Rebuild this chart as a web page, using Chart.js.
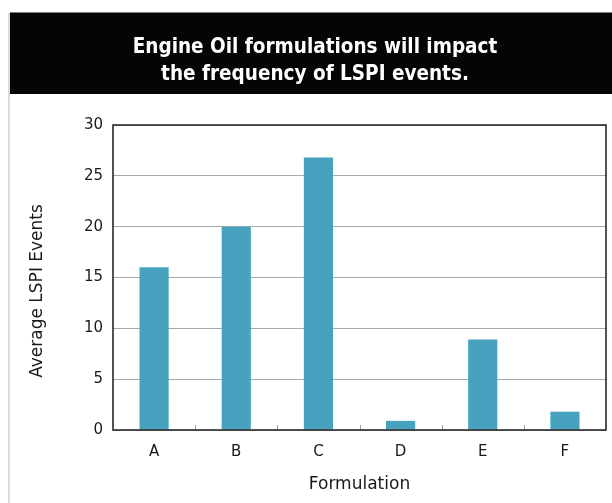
<!DOCTYPE html>
<html>
<head>
<meta charset="utf-8">
<script src="https://cdn.jsdelivr.net/npm/chart.js@4.4.1/dist/chart.umd.min.js"></script>
<style>
  html, body { margin: 0; padding: 0; background: #ffffff; }
  #wrap { width: 612px; height: 503px; position: relative; }
</style>
</head>
<body>
<div id="wrap"><canvas id="chart" width="612" height="503"></canvas></div>
<script>
// Formulations and their average LSPI event counts
const categories = ['A', 'B', 'C', 'D', 'E', 'F'];
const avgEvents = [16, 20, 26.8, 0.9, 8.9, 1.8];
const yTicks = [0, 5, 10, 15, 20, 25, 30];
const titleLines = ['Engine Oil formulations will impact', 'the frequency of LSPI events.'];
const xAxisTitle = 'Formulation';
const yAxisTitle = 'Average LSPI Events';

const BAR_COLOR = '#46a2bf';
const TEXT_COLOR = '#1a1a1a';
const TEXT_FONT = "'DejaVu Sans', 'Open Sans', sans-serif";
const TITLE_FONT = "'DejaVu Sans Condensed', 'Open Sans', sans-serif";

// Black banner with the headline, plus the thin frame line on the left
const headerPlugin = {
  id: 'header',
  beforeDraw(chart) {
    const ctx = chart.ctx;
    ctx.save();
    ctx.fillStyle = '#ffffff';
    ctx.fillRect(0, 0, chart.width, chart.height);
    ctx.strokeStyle = '#cfcfcf';
    ctx.lineWidth = 1.5;
    ctx.beginPath();
    ctx.moveTo(9, 13);
    ctx.lineTo(9, chart.height);
    ctx.stroke();
    ctx.fillStyle = '#050505';
    ctx.fillRect(10, 12.5, chart.width - 10, 81.5);
    ctx.fillStyle = '#ffffff';
    ctx.font = "bold 20.5px " + TITLE_FONT;
    ctx.textAlign = 'center';
    ctx.textBaseline = 'alphabetic';
    ctx.fillText(titleLines[0], 315, 53);
    ctx.fillText(titleLines[1], 315, 80);
    ctx.restore();
  }
};

// Dark box around the plot, short upward ticks between categories,
// and the vertical axis caption (sits a little below the plot's middle)
const frameTicksPlugin = {
  id: 'frameTicks',
  afterDatasetsDraw(chart) {
    const { ctx, chartArea: a, scales: { x } } = chart;
    ctx.save();
    ctx.strokeStyle = '#9a9a9a';
    ctx.lineWidth = 1;
    for (let i = 1; i < categories.length; i++) {
      const px = Math.round(x.getPixelForValue(i - 0.5)) + 0.5;
      ctx.beginPath();
      ctx.moveTo(px, a.bottom);
      ctx.lineTo(px, a.bottom - 5);
      ctx.stroke();
    }
    ctx.strokeStyle = '#2a2a2a';
    ctx.lineWidth = 1.6;
    ctx.strokeRect(a.left, a.top, a.right - a.left, a.bottom - a.top);

    ctx.translate(38, 291);
    ctx.rotate(-Math.PI / 2);
    ctx.fillStyle = TEXT_COLOR;
    ctx.font = "17px " + TEXT_FONT;
    ctx.textAlign = 'center';
    ctx.textBaseline = 'middle';
    ctx.fillText(yAxisTitle, 0, 0);
    ctx.restore();
  }
};

new Chart(document.getElementById('chart'), {
  type: 'bar',
  data: {
    labels: categories,
    datasets: [{
      label: yAxisTitle,
      data: avgEvents,
      backgroundColor: BAR_COLOR,
      borderWidth: 0,
      categoryPercentage: 1.0,
      barPercentage: 0.355
    }]
  },
  options: {
    responsive: false,
    animation: false,
    devicePixelRatio: 1,
    layout: { padding: { left: 10, right: 6, top: 125, bottom: 0 } },
    plugins: {
      legend: { display: false },
      title: { display: false },
      tooltip: { enabled: false }
    },
    scales: {
      x: {
        grid: { display: false, drawTicks: false },
        border: { display: false },
        ticks: {
          color: TEXT_COLOR,
          padding: 13,
          font: { family: TEXT_FONT, size: 15 }
        },
        title: {
          display: true,
          text: xAxisTitle,
          color: TEXT_COLOR,
          padding: { top: 0, bottom: 8 },
          font: { family: TEXT_FONT, size: 17 }
        },
        afterFit(scale) { scale.height = 73; }
      },
      y: {
        min: 0,
        max: 30,
        afterBuildTicks(scale) { scale.ticks = yTicks.map(v => ({ value: v })); },
        grid: { color: '#a8a8a8', lineWidth: 1, drawTicks: false },
        border: { display: false },
        ticks: {
          color: TEXT_COLOR,
          padding: 10,
          font: { family: TEXT_FONT, size: 15 }
        },
        title: { display: false },
        afterFit(scale) { scale.width = 103; }
      }
    }
  },
  plugins: [headerPlugin, frameTicksPlugin]
});
</script>
</body>
</html>
